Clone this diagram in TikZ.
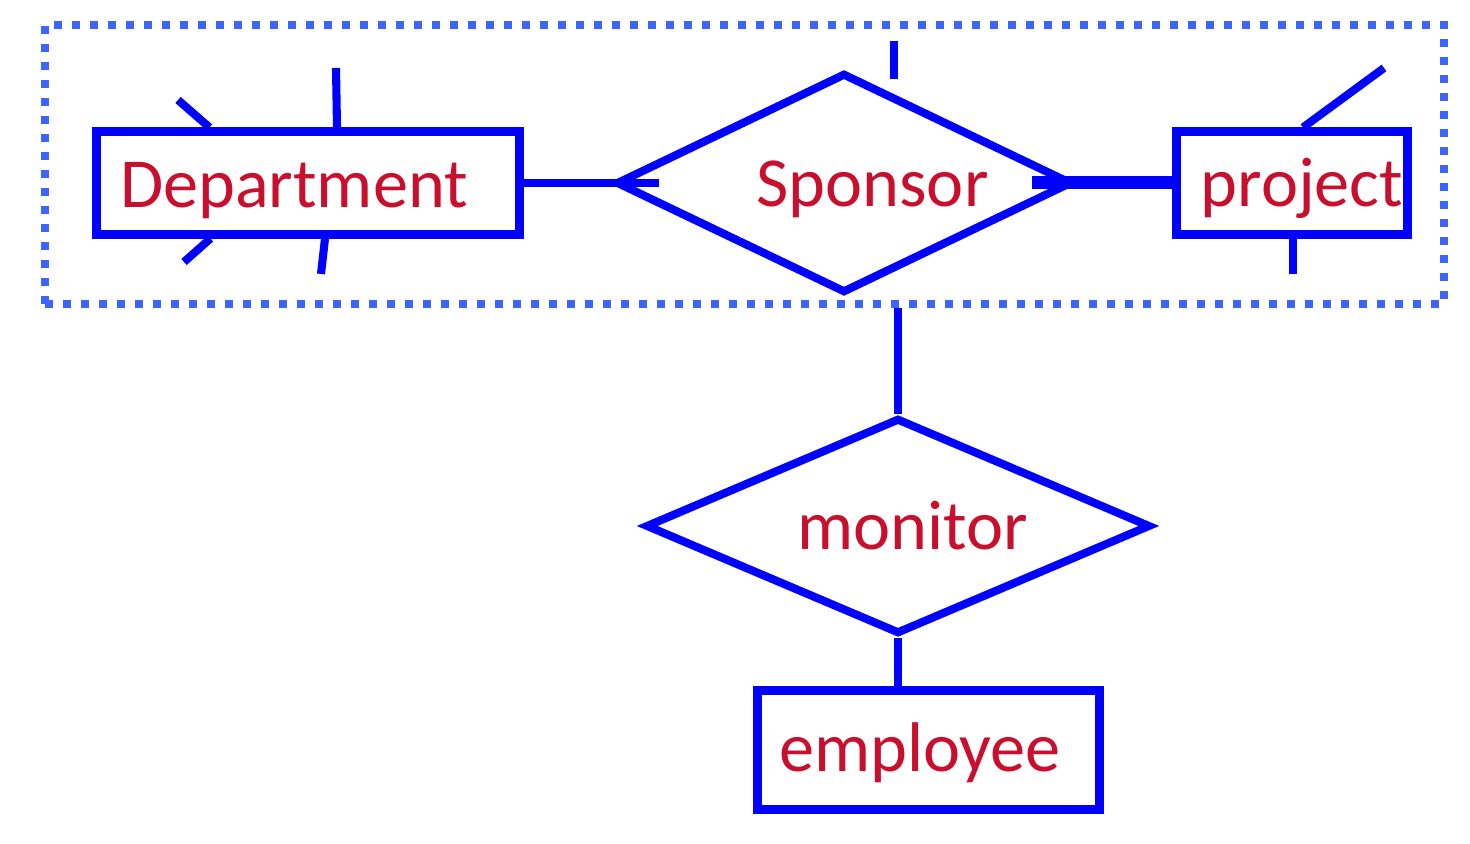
\documentclass[tikz,border=0pt]{standalone}
\usepackage{fontspec}
\setmainfont{Carlito}
\usetikzlibrary{shapes.geometric}
\definecolor{erblue}{RGB}{0,0,255}
\definecolor{aggblue}{RGB}{60,100,255}
\definecolor{erred}{RGB}{200,16,46}
\begin{document}
\begin{tikzpicture}
		[	entity/.style={rectangle,draw=erblue,line width=2.3pt,inner sep=0pt},
		rel/.style={diamond,draw=erblue,line width=2.3pt,inner sep=0pt,aspect=2.1},
		aggbox/.style={rectangle,draw=aggblue,line width=0.08cm,dash pattern=on 0.08cm off 0.10cm,inner sep=0pt},
		ertext/.style={anchor=base,inner sep=0pt,text=erred,font=\fontsize{20}{24}\selectfont},
		link/.style={draw=erblue,line width=2.3pt},
		total/.style={draw=erblue,line width=0.13cm}
		]
		\useasboundingbox (0,0) rectangle (14.7,8.44);
		\node[aggbox,minimum width=13.99cm,minimum height=2.79cm] (agg) at (7.445,6.795){};
		\node[entity,minimum width=4.23cm,minimum height=1.03cm] (dept) at (3.08,6.61){};
		\node[rel,minimum width=4.56cm,minimum height=2.2cm] (sponsor) at (8.44,6.61){};
		\node[entity,minimum width=2.31cm,minimum height=1.03cm] (project) at (12.92,6.61){};
		\node[rel,minimum width=5.05cm,minimum height=2.16cm] (monitor) at (8.98,3.18){};
		\node[entity,minimum width=3.42cm,minimum height=1.19cm] (employee) at (9.285,0.94){};

\node[ertext] (dept-t) at (2.94,6.36){Department};
\node[ertext] (sponsor-t) at (8.725,6.37){Sponsor};
\node[ertext] (project-t) at (13.02,6.37){project};
\node[ertext] (monitor-t) at (9.125,2.94){monitor};
\node[ertext] (employee-t) at (9.20,0.72){employee};

\coordinate (d-a1) at (1.78,7.44);
\coordinate (d-a2) at (3.36,7.76);
\coordinate (d-a3) at (1.84,5.82);
\coordinate (d-a4) at (3.21,5.70);
\coordinate (s-a1) at (8.94,8.03);
\coordinate (s-a2) at (8.94,7.65);
\coordinate (p-a1) at (13.84,7.76);
\coordinate (p-a2) at (12.93,5.70);

\draw[link] (dept.east) -- ([xshift=4.7mm]sponsor.west);
\draw[total] ([xshift=-4.4mm]sponsor.east) -- (project.west);
\draw[link] (agg.south -| monitor.north) -- (monitor.north);
\draw[link] (monitor.south) -- (monitor.south |- employee.north);
\draw[link] (s-a1) -- (s-a2);
\draw[link] (d-a1) -- ([xshift=11.7mm]dept.north west);
\draw[link] (d-a2) -- ([xshift=2.9mm]dept.north);
\draw[link] (d-a3) -- ([xshift=11.8mm]dept.south west);
\draw[link] (d-a4) -- ([xshift=1.7mm]dept.south);
\draw[link] (p-a1) -- ([xshift=1.1mm]project.north);
\draw[link] (p-a2) -- (p-a2 |- project.south);
	\end{tikzpicture}
\end{document}
